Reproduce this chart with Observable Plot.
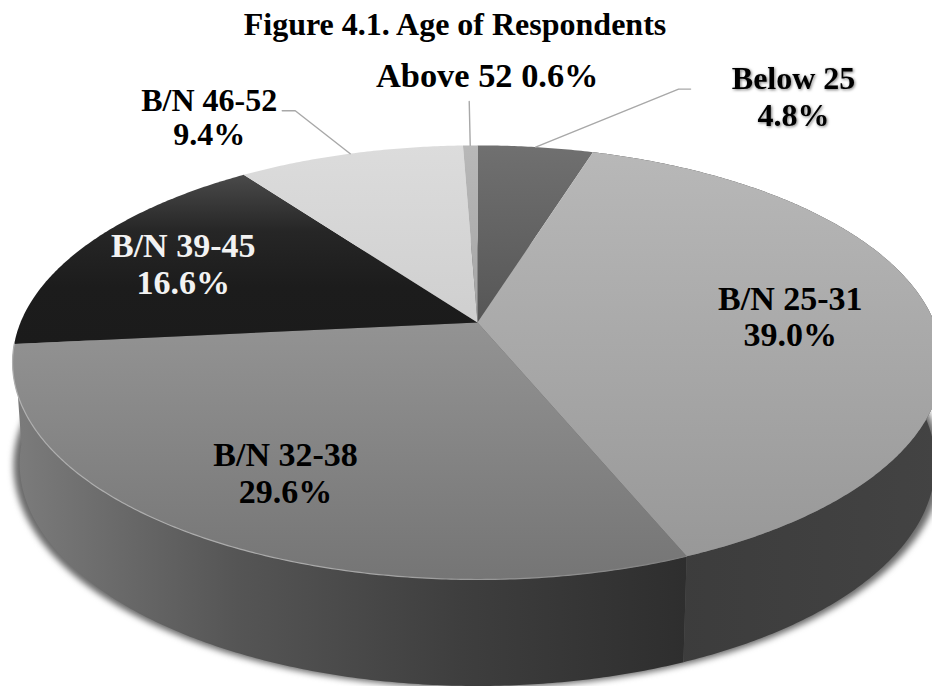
<!DOCTYPE html>
<html>
<head>
<meta charset="utf-8">
<script src="https://cdn.jsdelivr.net/npm/d3@7"></script>
<script src="https://cdn.jsdelivr.net/npm/@observablehq/plot@0.6"></script>
<style>
  html, body { margin: 0; background: #fff; overflow: hidden; }
  #title { height: 48px; box-sizing: border-box; padding: 8px 22px 0 0; text-align: center;
           font: 700 32px/32px "Liberation Serif", serif; color: #000; white-space: nowrap; }
  svg { display: block; }
</style>
</head>
<body>
<div id="title">Figure 4.1. Age of Respondents</div>
<script>
// Age groups and their shares (percent), clockwise from twelve o'clock.
const categories = ["Below 25", "B/N 25-31", "B/N 32-38", "B/N 39-45", "B/N 46-52", "Above 52"];
const shares = [4.8, 39.0, 29.6, 16.6, 9.4, 0.6];

// Shading of the top face of each slice, and of the two walls facing the viewer.
const topShades = [["#707070", "#565656"], ["#b8b8b8", "#989898"], ["#939393", "#757575"],
                   ["#4a4a4a", "#262626", "#1c1c1c", "#1b1b1b"], ["#dcdcdc", "#cfcfcf"], ["#b8b8b8", "#a4a4a4"]];
const wallShades = {"B/N 25-31": ["#3a3a3a", "#434343"],
                    "B/N 32-38": ["#7c7c7c", "#555555", "#3e3e3e", "#2e2e2e"]};

// Label placement: radius along the slice's mid-angle, then a pixel nudge.
const labelRadius = [1, 0.68, 0.75, 0.745, 1, 1];
const labelDx = [258, 4, 8, 0, -141, 17];
const labelDy = [-51, 0, -2.5, 1.5, -36.5, -69];
const labelSize = [32, 34, 34, 34, 32, 34.4];
const labelLeading = [1.15, 1.08, 1.08, 1.08, 1.06, 1];
const labelFill = ["#000", "#000", "#000", "#f2f2f2", "#000", "#000"];
const labelFilter = ["drop-shadow(1px 1px 1.5px #777)", "none", "none", "none", "none", "none"];

// Leader line bends, relative to the rim point at the slice's mid-angle.
const leaderBends = {
  "Below 25": [[143, -58], [155, -58]],
  "B/N 46-52": [[-55, -43], [-68, -43]],
  "Above 52": [[-1, -44]]
};

// Perspective projection of the pie's circular faces onto the page.
const tilt = 0.184;
const topFace = {cx: 477, cy: 322, a: 457, b: 209.7};
const baseFace = {cx: 477, cy: 422, a: 450, b: 215};
const project = (face, deg, r = 1) => {
  const t = deg * Math.PI / 180, u = r * Math.sin(t), v = -r * Math.cos(t), w = 1 - tilt * v;
  return {x: face.cx + face.a * u / w, y: face.cy + face.b * v / w};
};

const total = d3.sum(shares);
const edges = [0, ...d3.cumsum(shares)].map(d => d / total * 360);
const arcDegrees = (a0, a1) => d3.range(a0, a1, 0.5).concat(a1);

const slices = categories.map((name, i) => {
  const a0 = edges[i], a1 = edges[i + 1], mid = (a0 + a1) / 2;
  const arc = arcDegrees(a0, a1);
  const top = [{x: topFace.cx, y: topFace.cy}, ...arc.map(a => project(topFace, a))];
  const wall = [...arc.map(a => project(topFace, a)), ...arc.slice().reverse().map(a => project(baseFace, a))];
  const label = project(topFace, mid, labelRadius[i]);
  const rim = project(topFace, mid);
  const leader = leaderBends[name]
    ? [rim, ...leaderBends[name].map(([dx, dy]) => ({x: rim.x + dx, y: rim.y + dy}))]
    : null;
  return {name, i, top, wall, leader, text: `${name}${name === "Above 52" ? " " : "\n"}${shares[i].toFixed(1)}%`,
          lx: label.x + labelDx[i], ly: label.y + labelDy[i]};
});

const shadow = arcDegrees(0, 360).map(a =>
  project({...baseFace, a: baseFace.a + 6, cy: baseFace.cy + 2}, a));
const highlight = arcDegrees(edges[2], edges[3]).map(a => project(topFace, a));

const lineFace = (points, fill, extra = {}) =>
  Plot.line(points, {x: "x", y: "y", fill, stroke: "none", ...extra});

const chart = Plot.plot({
  width: 932,
  height: 638,
  margin: 0,
  x: {domain: [0, 932], range: [0, 932], axis: null},
  y: {domain: [48, 686], range: [0, 638], axis: null},
  marks: [
    lineFace(shadow, "#6a6a6a", {imageFilter: "blur(3px)"}),
    slices.filter(s => wallShades[s.name]).map(s => lineFace(s.wall, `url(#wall${s.i})`)),
    slices.map(s => lineFace(s.top, `url(#top${s.i})`)),
    Plot.line(highlight, {x: "x", y: "y", stroke: "url(#rimGlow)", strokeWidth: 1.2}),
    slices.filter(s => s.leader).map(s =>
      Plot.line(s.leader, {x: "x", y: "y", stroke: "#a8a8a8", strokeWidth: 1.4})),
    slices.map(s => Plot.text([s], {
      x: "lx", y: "ly", text: "text", fill: labelFill[s.i], imageFilter: labelFilter[s.i],
      fontFamily: "Liberation Serif", fontWeight: 700, fontSize: labelSize[s.i], lineHeight: labelLeading[s.i],
      textAnchor: "middle", lineAnchor: "middle"
    }))
  ]
});

// Gradient definitions referenced by the faces above.
const defs = d3.select(chart).insert("defs", ":first-child");
const addGradient = (id, stops, horizontal) => {
  const g = defs.append("linearGradient").attr("id", id)
    .attr("x1", 0).attr("y1", 0).attr("x2", horizontal ? 1 : 0).attr("y2", horizontal ? 0 : 1);
  stops.forEach((c, k) => g.append("stop").attr("offset", k / (stops.length - 1)).attr("stop-color", c));
};
topShades.forEach((s, i) => addGradient(`top${i}`, s, false));
categories.forEach((name, i) => { if (wallShades[name]) addGradient(`wall${i}`, wallShades[name], true); });
addGradient("rimGlow", ["#b0b0b0", "#a8a8a8", "#808080"], true);

document.body.append(chart);
</script>
</body>
</html>
